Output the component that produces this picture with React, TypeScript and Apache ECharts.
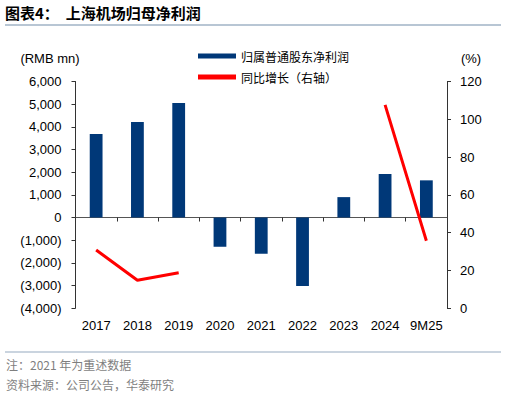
import React, { useEffect, useRef } from "react";
import * as echarts from "echarts";

const categories = ["2017", "2018", "2019", "2020", "2021", "2022", "2023", "2024", "9M25"];
const netProfit = [3680, 4210, 5050, -1290, -1600, -3020, 900, 1920, 1640];
const growth: (number | null)[] = [30.8, 14.8, 18.8, null, null, null, null, 107.6, 35.7];
const leftTicks = { min: -4000, max: 6000, interval: 1000 };
const rightTicks = { min: 0, max: 120, interval: 20 };

const LAT = "'Liberation Sans', Arial, sans-serif";
const CJK = "'Noto Sans CJK SC', sans-serif";

function fmtLeft(v: number) {
  const s = Math.abs(v).toLocaleString("en-US");
  return v < 0 ? `(${s})` : s;
}

export default function App() {
  const ref = useRef<HTMLDivElement>(null);
  useEffect(() => {
    if (!ref.current) return;
    const chart = echarts.init(ref.current, undefined, { renderer: "svg" });
    const axisColor = "#333333";
    chart.setOption({
      animation: false,
      backgroundColor: "#ffffff",
      grid: { left: 75.5, right: 59, top: 81.5, bottom: 89.8 },
      legend: {
        orient: "vertical",
        left: 193,
        top: 45,
        itemWidth: 38,
        itemHeight: 5,
        itemGap: 9,
        textStyle: { fontFamily: CJK, fontSize: 12, color: "#000" },
        data: [
          { name: "归属普通股东净利润", icon: "rect" },
          { name: "同比增长（右轴）", icon: "rect" },
        ],
      },
      xAxis: [
        {
          type: "category",
          data: categories,
          position: "bottom",
          axisLine: { show: false },
          axisTick: { show: false },
          axisLabel: { fontFamily: LAT, fontSize: 13, color: "#000", margin: 11, interval: 0 },
        },
        {
          type: "category",
          data: categories,
          position: "bottom",
          axisLine: { show: true, onZero: true, onZeroAxisIndex: 0, lineStyle: { color: "#555", width: 1 } },
          axisTick: { show: true, length: 4, interval: 0, lineStyle: { color: "#333" } },
          axisLabel: { show: false },
          splitLine: { show: false },
        },
      ],
      yAxis: [
        {
          type: "value",
          min: leftTicks.min,
          max: leftTicks.max,
          interval: leftTicks.interval,
          axisLine: { show: true, lineStyle: { color: axisColor } },
          axisTick: { show: true, length: 4, lineStyle: { color: axisColor } },
          splitLine: { show: false },
          axisLabel: { fontFamily: LAT, fontSize: 13, color: "#000", margin: 14, formatter: fmtLeft },
        },
        {
          type: "value",
          position: "right",
          min: rightTicks.min,
          max: rightTicks.max,
          interval: rightTicks.interval,
          axisLine: { show: true, lineStyle: { color: axisColor } },
          axisTick: { show: true, length: 4, lineStyle: { color: axisColor } },
          splitLine: { show: false },
          axisLabel: { fontFamily: LAT, fontSize: 13, color: "#000", margin: 13 },
        },
      ],
      series: [
        {
          name: "归属普通股东净利润",
          type: "bar",
          xAxisIndex: 0,
          yAxisIndex: 0,
          data: netProfit,
          barWidth: "31%",
          itemStyle: { color: "#003878" },
        },
        {
          name: "同比增长（右轴）",
          type: "line",
          xAxisIndex: 0,
          yAxisIndex: 1,
          data: growth,
          connectNulls: false,
          symbol: "none",
          lineStyle: { color: "#ff0000", width: 3 },
          itemStyle: { color: "#ff0000" },
        },
      ],
      graphic: [
        {
          type: "text",
          left: 5,
          top: 5,
          style: { text: "图表4：  上海机场归母净利润", fontFamily: CJK, fontSize: 15, fontWeight: "bold", fill: "#000" },
        },
        { type: "line", shape: { x1: 5, y1: 25, x2: 501, y2: 25 }, style: { stroke: "#b8c6d4", lineWidth: 2 } },
        {
          type: "text",
          x: 50,
          y: 58,
          style: { text: "(RMB mn)", fontFamily: LAT, fontSize: 13, fill: "#000", align: "center", verticalAlign: "middle" },
        },
        {
          type: "text",
          x: 471,
          y: 58,
          style: { text: "(%)", fontFamily: LAT, fontSize: 13, fill: "#000", align: "center", verticalAlign: "middle" },
        },
        { type: "line", shape: { x1: 5, y1: 352, x2: 501, y2: 352 }, style: { stroke: "#b8c6d4", lineWidth: 1.5 } },
        {
          type: "text",
          x: 6,
          y: 364,
          style: { text: "注：2021 年为重述数据", fontFamily: CJK, fontSize: 12, fill: "#7f7f7f", verticalAlign: "middle" },
        },
        {
          type: "text",
          x: 6,
          y: 384,
          style: { text: "资料来源：公司公告，华泰研究", fontFamily: CJK, fontSize: 12, fill: "#7f7f7f", verticalAlign: "middle" },
        },
      ],
    });
    return () => chart.dispose();
  }, []);
  return <div ref={ref} style={{ width: 506, height: 398, position: "absolute", left: 0, top: 0 }} />;
}
